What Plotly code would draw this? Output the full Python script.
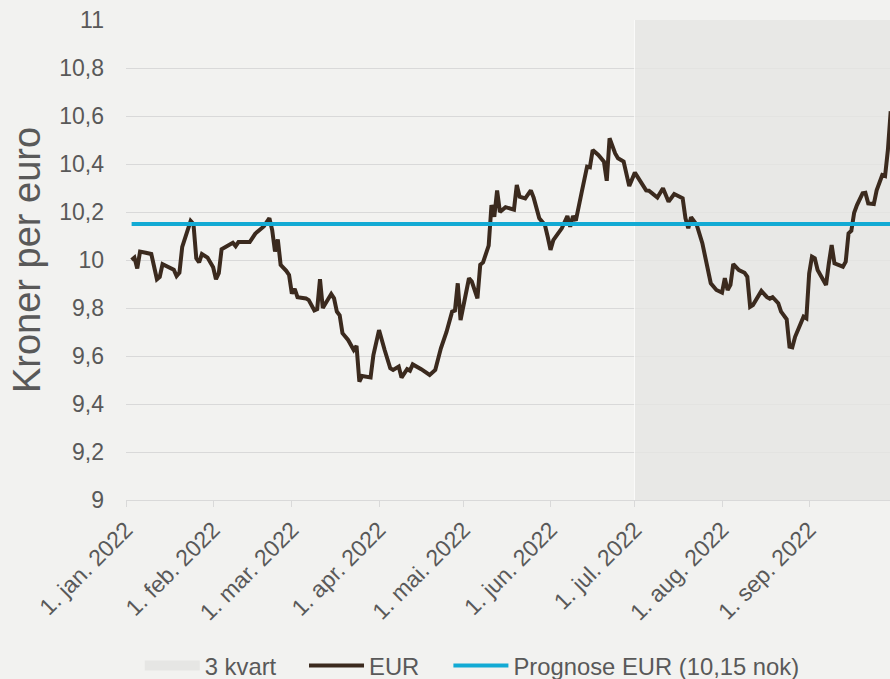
import plotly.graph_objects as go
import pandas as pd

# ---------------- data ----------------
eur_dates = [
    "2022-01-03", "2022-01-04", "2022-01-05", "2022-01-06", "2022-01-08", "2022-01-10", "2022-01-12",
    "2022-01-13", "2022-01-14", "2022-01-16", "2022-01-18", "2022-01-19", "2022-01-20", "2022-01-21",
    "2022-01-24", "2022-01-25", "2022-01-26", "2022-01-27", "2022-01-28", "2022-01-30",
    "2022-02-01", "2022-02-02", "2022-02-03", "2022-02-04", "2022-02-06", "2022-02-08", "2022-02-09",
    "2022-02-10", "2022-02-14", "2022-02-16", "2022-02-19", "2022-02-21", "2022-02-22", "2022-02-23",
    "2022-02-24", "2022-02-25", "2022-02-27", "2022-02-28",
    "2022-03-01", "2022-03-02", "2022-03-03", "2022-03-06", "2022-03-07", "2022-03-09", "2022-03-10",
    "2022-03-11", "2022-03-12", "2022-03-15", "2022-03-16", "2022-03-17", "2022-03-18", "2022-03-19",
    "2022-03-21", "2022-03-22", "2022-03-23", "2022-03-24", "2022-03-25", "2022-03-26", "2022-03-27",
    "2022-03-29", "2022-03-30",
    "2022-04-01", "2022-04-03", "2022-04-05", "2022-04-06", "2022-04-08", "2022-04-09", "2022-04-10",
    "2022-04-11", "2022-04-12", "2022-04-13", "2022-04-16", "2022-04-19", "2022-04-21", "2022-04-22",
    "2022-04-23", "2022-04-25", "2022-04-27", "2022-04-28", "2022-04-29", "2022-04-30",
    "2022-05-03", "2022-05-04", "2022-05-06", "2022-05-07", "2022-05-08", "2022-05-10", "2022-05-11",
    "2022-05-12", "2022-05-13", "2022-05-14", "2022-05-16", "2022-05-19", "2022-05-20", "2022-05-21",
    "2022-05-23", "2022-05-25", "2022-05-26", "2022-05-28", "2022-05-30", "2022-05-31",
    "2022-06-01", "2022-06-02", "2022-06-05", "2022-06-07", "2022-06-08", "2022-06-09", "2022-06-10",
    "2022-06-12", "2022-06-14", "2022-06-15", "2022-06-16", "2022-06-18", "2022-06-20", "2022-06-21",
    "2022-06-22", "2022-06-24", "2022-06-25", "2022-06-27", "2022-06-29",
    "2022-07-01", "2022-07-03", "2022-07-05", "2022-07-06", "2022-07-07", "2022-07-09", "2022-07-11",
    "2022-07-13", "2022-07-15", "2022-07-18", "2022-07-19", "2022-07-20", "2022-07-21", "2022-07-23",
    "2022-07-25", "2022-07-28", "2022-07-30",
    "2022-08-01", "2022-08-02", "2022-08-03", "2022-08-04", "2022-08-05", "2022-08-07", "2022-08-09",
    "2022-08-10", "2022-08-11", "2022-08-12", "2022-08-14", "2022-08-15", "2022-08-17", "2022-08-18",
    "2022-08-19", "2022-08-21", "2022-08-22", "2022-08-24", "2022-08-25", "2022-08-26", "2022-08-27",
    "2022-08-29", "2022-08-30", "2022-08-31",
    "2022-09-01", "2022-09-02", "2022-09-03", "2022-09-04", "2022-09-07", "2022-09-08", "2022-09-09",
    "2022-09-10", "2022-09-12", "2022-09-13", "2022-09-14", "2022-09-15", "2022-09-16", "2022-09-17",
    "2022-09-18", "2022-09-20", "2022-09-21", "2022-09-22", "2022-09-24", "2022-09-25", "2022-09-27",
    "2022-09-28", "2022-09-29", "2022-09-30",
]

eur_values = [
    10.00, 10.01, 9.965, 10.035, 10.03, 10.025, 9.92, 9.93, 9.983, 9.97, 9.96, 9.933, 9.947, 10.055,
    10.163, 10.15, 10.007, 9.99, 10.025, 10.01,
    9.97, 9.92, 9.945, 10.045, 10.058, 10.072, 10.058, 10.075, 10.075, 10.11, 10.14, 10.174, 10.125,
    10.035, 10.086, 9.98, 9.955, 9.9375,
    9.86, 9.88, 9.845, 9.84, 9.833, 9.79, 9.795, 9.92, 9.80, 9.858, 9.84, 9.785, 9.77, 9.695, 9.667,
    9.646, 9.625, 9.642, 9.493, 9.517, 9.514, 9.511, 9.604,
    9.708, 9.625, 9.549, 9.542, 9.556, 9.51, 9.528, 9.545, 9.539, 9.565, 9.545, 9.521, 9.542, 9.597,
    9.632, 9.70, 9.785, 9.789, 9.903, 9.75,
    9.924, 9.91, 9.84, 9.98, 9.99, 10.06, 10.229, 10.18, 10.29, 10.20, 10.22, 10.21, 10.3125, 10.264,
    10.257, 10.29, 10.26, 10.174, 10.146, 10.097,
    10.042, 10.083, 10.132, 10.183, 10.139, 10.183, 10.164, 10.278, 10.389, 10.386, 10.458, 10.4375,
    10.41, 10.33, 10.507, 10.444, 10.424, 10.41, 10.308,
    10.364, 10.33, 10.29, 10.289, 10.278, 10.26, 10.299, 10.243, 10.275, 10.257, 10.174, 10.132,
    10.178, 10.146, 10.07, 9.903, 9.875,
    9.864, 9.924, 9.875, 9.896, 9.983, 9.958, 9.947, 9.93, 9.805, 9.8125, 9.847, 9.871, 9.845, 9.839,
    9.845, 9.82, 9.785, 9.753, 9.639, 9.636, 9.68, 9.736, 9.764, 9.757,
    9.944, 10.014, 10.007, 9.958, 9.896, 9.986, 10.0625, 9.986, 9.979, 9.972, 9.993, 10.111, 10.122,
    10.197, 10.229, 10.278, 10.28, 10.236, 10.233, 10.29, 10.354, 10.35, 10.458, 10.62,
]

forecast_dates = ["2022-01-03", "2022-09-30"]
forecast_values = [10.15, 10.15]

quarter_name = "3 kvart"
quarter_start = "2022-07-01"
quarter_end = "2022-10-01"
quarter_height = 11

x_tick_dates = ["2022-01-01", "2022-02-01", "2022-03-01", "2022-04-01", "2022-05-01",
                "2022-06-01", "2022-07-01", "2022-08-01", "2022-09-01"]
x_tick_labels = ["1. jan. 2022", "1. feb. 2022", "1. mar. 2022", "1. apr. 2022", "1. mai. 2022",
                 "1. jun. 2022", "1. jul. 2022", "1. aug. 2022", "1. sep. 2022"]
y_tick_values = [9, 9.2, 9.4, 9.6, 9.8, 10, 10.2, 10.4, 10.6, 10.8, 11]
y_tick_labels = ["9", "9,2", "9,4", "9,6", "9,8", "10", "10,2", "10,4", "10,6", "10,8", "11"]

# ---------------- style ----------------
BG = "#f2f2f0"
GRID = "#d9d9d9"
TEXT = "#595959"
EUR_COLOR = "#3b2a1e"
FC_COLOR = "#12aad4"
SHADE = "rgba(229,229,227,0.78)"
FONT = "Liberation Sans, Arial, sans-serif"

qs = pd.Timestamp(quarter_start)
qe = pd.Timestamp(quarter_end)

fig = go.Figure()

fig.add_trace(go.Bar(
    x=[qs + (qe - qs) / 2], y=[quarter_height],
    width=[(qe - qs).total_seconds() * 1000],
    marker=dict(color=SHADE, line=dict(color="rgba(255,255,255,0.7)", width=1)),
    showlegend=False, legendgroup="q3", hoverinfo="skip",
))
# legend entry for the shaded quarter
fig.add_trace(go.Scatter(
    x=[None], y=[None], mode="lines", name=quarter_name, legendgroup="q3",
    line=dict(color="#e6e6e4", width=11), legend="legend",
))
fig.add_trace(go.Scatter(
    x=eur_dates, y=eur_values, mode="lines", name="EUR",
    line=dict(color=EUR_COLOR, width=4), legend="legend2",
))
fig.add_trace(go.Scatter(
    x=forecast_dates, y=forecast_values, mode="lines", name="Prognose EUR (10,15 nok)",
    line=dict(color=FC_COLOR, width=4), legend="legend3",
))

legend_common = dict(
    orientation="h", xanchor="left",
    yref="container", y=0.02, yanchor="middle",
    itemwidth=55,
    font=dict(family=FONT, size=23.8, color=TEXT),
    bgcolor="rgba(0,0,0,0)",
)

fig.update_layout(
    width=890, height=679,
    margin=dict(l=126, r=0, t=20, b=179),
    paper_bgcolor=BG, plot_bgcolor=BG,
    font=dict(family=FONT, size=23, color=TEXT),
    bargap=0,
    showlegend=True,
    legend=dict(x=0.018, **legend_common),
    legend2=dict(x=0.233, **legend_common),
    legend3=dict(x=0.422, **legend_common),
)

fig.update_xaxes(
    type="date",
    range=["2022-01-01", "2022-09-29 18:00"],
    tickvals=x_tick_dates, ticktext=x_tick_labels,
    tickangle=-45, ticks="outside", ticklen=6, tickwidth=1.3, tickcolor=GRID,
    showline=True, linecolor=GRID, linewidth=1.3,
    showgrid=False, zeroline=False,
    tickfont=dict(family=FONT, size=23, color=TEXT),
)
fig.update_yaxes(
    range=[9, 11],
    tickvals=y_tick_values, ticktext=y_tick_labels,
    showgrid=True, gridcolor=GRID, gridwidth=1.3,
    zeroline=False, ticks="", ticklabelstandoff=21,
    tickfont=dict(family=FONT, size=23, color=TEXT),
    title=dict(text="Kroner per euro", font=dict(family=FONT, size=38, color=TEXT), standoff=6),
)

fig.write_html("out.html", config={"displayModeBar": False},
               post_script="document.body.style.margin='0';")
